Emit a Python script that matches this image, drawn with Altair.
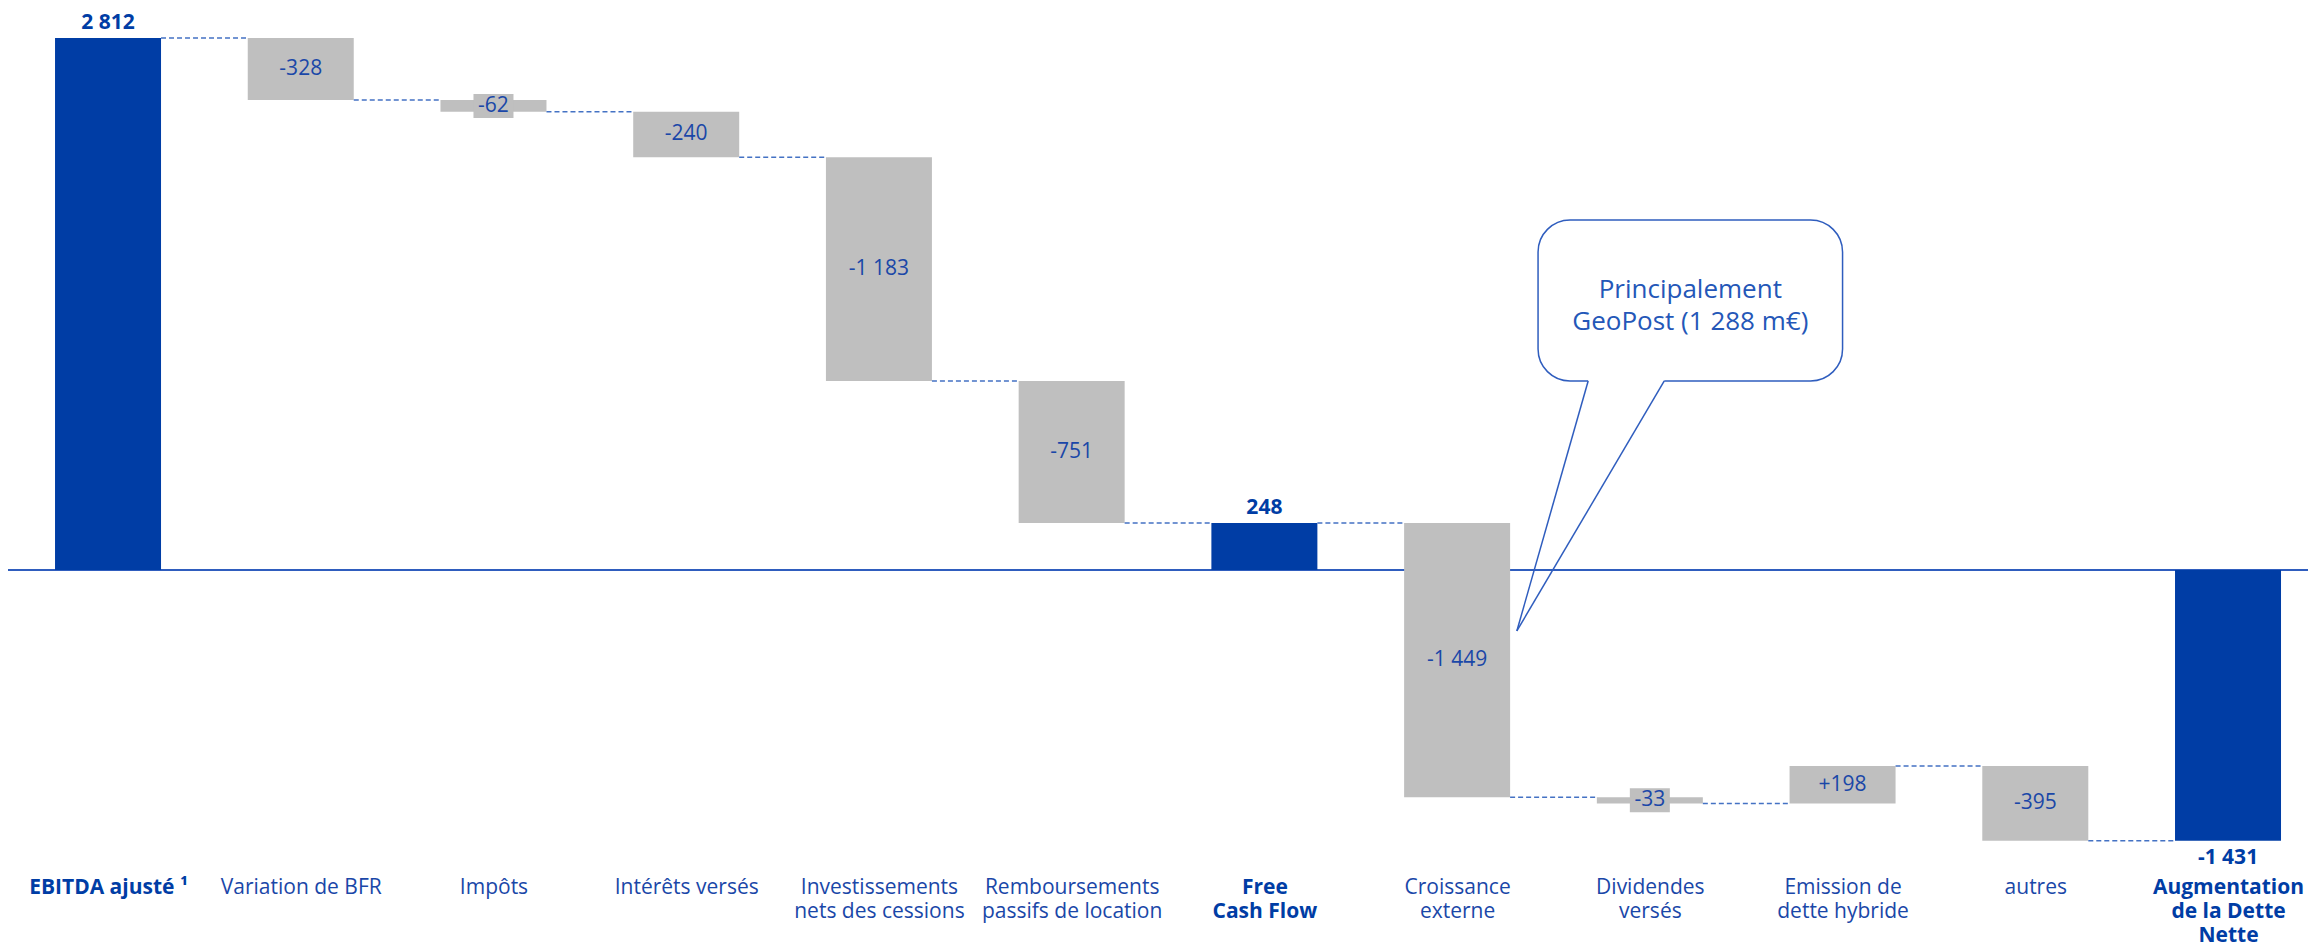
import json
import altair as alt
import pandas as pd

# ---------------- data ----------------
categories = [
    "EBITDA ajusté ¹", "Variation de BFR", "Impôts", "Intérêts versés",
    "Investissements\nnets des cessions", "Remboursements\npassifs de location",
    "Free\nCash Flow", "Croissance\nexterne", "Dividendes\nversés",
    "Emission de\ndette hybride", "autres", "Augmentation\nde la Dette\nNette",
]
values = [2812, -328, -62, -240, -1183, -751, 248, -1449, -33, 198, -395, -1431]
is_total = [True, False, False, False, False, False, True, False, False, False, False, True]

callout_text = "Principalement\nGeoPost (1 288 m€)"
callout_box_x = [7.42, 9.0]        # in category-index units
callout_box_y = [1850, 999]        # in value units
callout_tail_base_x = [7.68, 8.075]
callout_tail_tip = [7.31, -322]
callout_text_pos = [8.21, 1480]

# ---------------- styles ----------------
BLUE = "#003DA5"
GRAY = "#BFBFBF"
TXT = "#1A47A8"
LINE = "#2F5DBE"
FONT = "Open Sans"
HALF = 0.275

def fmt(v, total):
    s = f"{abs(v):,}".replace(",", " ")
    if v < 0:
        return "-" + s
    if not total:
        return "+" + s
    return s

rows = []
running = 0
for i, (c, v, t) in enumerate(zip(categories, values, is_total)):
    if t:
        start, end = 0, v
    else:
        start, end = running, running + v
    running = end
    rows.append(dict(idx=i, x0=i - HALF, x1=i + HALF, start=start, end=end,
                     mid=(start + end) / 2, kind="total" if t else "delta",
                     label=fmt(v, t), small=(not t and abs(v) < 100),
                     pos=v >= 0))
df = pd.DataFrame(rows)

conn = pd.DataFrame([
    dict(cx0=rows[i]["x1"], cx1=rows[i + 1]["x0"], cy=rows[i]["end"])
    for i in range(len(rows) - 1)
])

xscale = alt.Scale(domain=[-0.519, 11.415], nice=False, zero=False)
yscale = alt.Scale(domain=[-1585.6, 2970.4], nice=False, zero=False)

label_arrays = [c.split("\n") for c in categories]
label_expr = json.dumps(label_arrays, ensure_ascii=False) + "[datum.value]"
bold_test = "datum.value == 0 || datum.value == 6 || datum.value == 11"
xaxis = alt.Axis(
    values=list(range(len(categories))), labelExpr=label_expr, title=None,
    labelFont=FONT, labelFontSize=21, labelPadding=6, labelLineHeight=24,
    labelLimit=0,
    labelColor={"condition": {"test": bold_test, "value": BLUE}, "value": TXT},
    labelFontWeight={"condition": {"test": bold_test, "value": "bold"}, "value": "normal"},
    domain=False, ticks=False, grid=False, labelOverlap=False, labelBound=False,
    labelFlush=False,
)

base = alt.Chart(df)

zero = alt.Chart(pd.DataFrame({"z": [0]})).mark_rule(color=LINE, strokeWidth=2).encode(
    y=alt.Y("z:Q", scale=yscale, axis=None)
)

bars = base.mark_bar().encode(
    x=alt.X("x0:Q", scale=xscale, axis=xaxis),
    x2="x1:Q",
    y=alt.Y("start:Q", scale=yscale, axis=None),
    y2="end:Q",
    color=alt.Color("kind:N", scale=alt.Scale(domain=["total", "delta"], range=[BLUE, GRAY]), legend=None),
)

connectors = alt.Chart(conn).mark_rule(color="#4472C4", strokeWidth=1.5, strokeDash=[5, 3]).encode(
    x=alt.X("cx0:Q", scale=xscale, axis=xaxis),
    x2="cx1:Q",
    y=alt.Y("cy:Q", scale=yscale, axis=None),
)

label_bg = base.transform_filter("datum.small").mark_point(
    shape="M-1,-0.6H1V0.6H-1Z", filled=True, color=GRAY, opacity=1, size=1600
).encode(
    x=alt.X("idx:Q", scale=xscale, axis=xaxis),
    y=alt.Y("mid:Q", scale=yscale, axis=None),
)

delta_labels = base.transform_filter("datum.kind == 'delta'").mark_text(
    font=FONT, fontSize=21, color=TXT, baseline="middle", align="center"
).encode(
    x=alt.X("idx:Q", scale=xscale, axis=xaxis),
    y=alt.Y("mid:Q", scale=yscale, axis=None),
    text="label:N",
)

tot_pos = base.transform_filter("datum.kind == 'total' && datum.pos").mark_text(
    font=FONT, fontSize=21, fontWeight="bold", color=BLUE, baseline="bottom", dy=-5
).encode(
    x=alt.X("idx:Q", scale=xscale, axis=xaxis),
    y=alt.Y("end:Q", scale=yscale, axis=None),
    text="label:N",
)

tot_neg = base.transform_filter("datum.kind == 'total' && !datum.pos").mark_text(
    font=FONT, fontSize=21, fontWeight="bold", color=BLUE, baseline="top", dy=6
).encode(
    x=alt.X("idx:Q", scale=xscale, axis=xaxis),
    y=alt.Y("end:Q", scale=yscale, axis=None),
    text="label:N",
)

box_df = pd.DataFrame({"bx0": [callout_box_x[0]], "bx1": [callout_box_x[1]],
                       "by0": [callout_box_y[0]], "by1": [callout_box_y[1]]})
box = alt.Chart(box_df).mark_rect(
    fill="white", stroke=LINE, strokeWidth=1.5, cornerRadius=32
).encode(
    x=alt.X("bx0:Q", scale=xscale, axis=xaxis), x2="bx1:Q",
    y=alt.Y("by0:Q", scale=yscale, axis=None), y2="by1:Q",
)

gap_df = pd.DataFrame({"gx0": [callout_tail_base_x[0]], "gx1": [callout_tail_base_x[1]],
                       "gy": [callout_box_y[1]]})
gap = alt.Chart(gap_df).mark_rule(color="white", strokeWidth=4).encode(
    x=alt.X("gx0:Q", scale=xscale, axis=xaxis), x2="gx1:Q",
    y=alt.Y("gy:Q", scale=yscale, axis=None),
)

tail_df = pd.DataFrame({
    "tx0": callout_tail_base_x,
    "ty0": [callout_box_y[1]] * 2,
    "tx1": [callout_tail_tip[0]] * 2,
    "ty1": [callout_tail_tip[1]] * 2,
})
tail = alt.Chart(tail_df).mark_rule(color=LINE, strokeWidth=1.5).encode(
    x=alt.X("tx0:Q", scale=xscale, axis=xaxis), x2="tx1:Q",
    y=alt.Y("ty0:Q", scale=yscale, axis=None), y2="ty1:Q",
)

ctext_df = pd.DataFrame({"cx": [callout_text_pos[0]], "cy": [callout_text_pos[1]], "t": [callout_text]})
ctext = alt.Chart(ctext_df).mark_text(
    font=FONT, fontSize=26, color="#2457B8", lineBreak="\n", lineHeight=32,
    align="center", baseline="middle"
).encode(
    x=alt.X("cx:Q", scale=xscale, axis=xaxis),
    y=alt.Y("cy:Q", scale=yscale, axis=None),
    text="t:N",
)

chart = alt.layer(
    zero, bars, connectors, label_bg, delta_labels, tot_pos, tot_neg, box, gap, tail, ctext
).properties(
    width=2300, height=862,
    autosize=alt.AutoSizeParams(type="none"),
    padding={"left": 0, "top": 0, "right": 0, "bottom": 80},
    background="white",
).configure_view(stroke=None)

chart.save("out.html", embed_options={"renderer": "svg", "actions": False})
